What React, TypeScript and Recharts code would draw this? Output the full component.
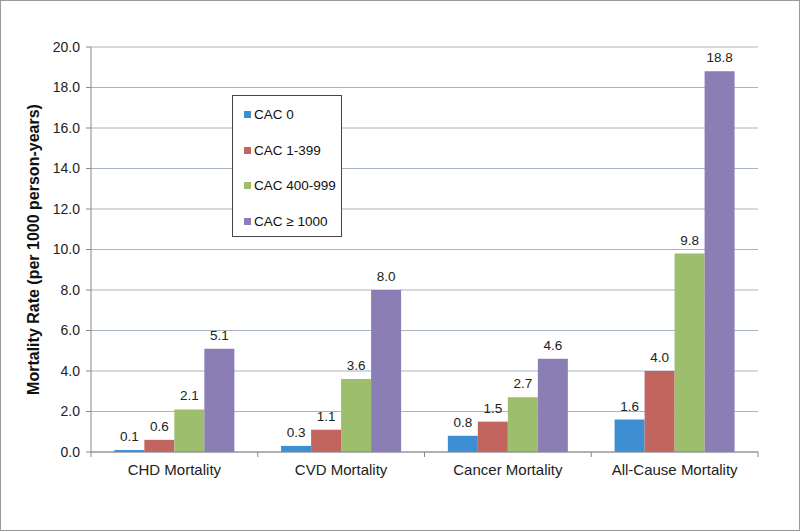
import { BarChart, Bar, XAxis, YAxis, CartesianGrid, Legend, LabelList } from 'recharts'

const categories = ['CHD Mortality', 'CVD Mortality', 'Cancer Mortality', 'All-Cause Mortality']
const cac0 = [0.1, 0.3, 0.8, 1.6]
const cac1to399 = [0.6, 1.1, 1.5, 4.0]
const cac400to999 = [2.1, 3.6, 2.7, 9.8]
const cac1000 = [5.1, 8.0, 4.6, 18.8]
const yTicks = [0, 2, 4, 6, 8, 10, 12, 14, 16, 18, 20]

const seriesDefs = [
    { key: 'CAC 0', values: cac0, color: '#3D8ED2' },
    { key: 'CAC 1-399', values: cac1to399, color: '#C2655F' },
    { key: 'CAC 400-999', values: cac400to999, color: '#9CBE6D' },
    { key: 'CAC ≥ 1000', values: cac1000, color: '#8A7EB5' },
]

const chartData = categories.map((name, i) => {
    const row: Record<string, string | number> = { name }
    seriesDefs.forEach(s => { row[s.key] = s.values[i] })
    return row
})

const FONT = '"Liberation Sans", Arial, sans-serif'

// category label plus tick marks on the band boundaries
const CategoryTick = (props: any) => {
    const { x, y, payload, index, width } = props
    const half = width / categories.length / 2
    const top = y - 8
    return (
        <g>
            <line x1={x - half} y1={top} x2={x - half} y2={top + 5} stroke="#888" />
            {index === categories.length - 1 && (
                <line x1={x + half} y1={top} x2={x + half} y2={top + 5} stroke="#888" />
            )}
            <text x={x} y={top + 23} textAnchor="middle" fontSize={15} fill="#222" fontFamily={FONT}>
                {payload.value}
            </text>
        </g>
    )
}

const LegendBox = () => (
    <div style={{
        width: 110, height: 142, border: '1px solid #444', background: '#fff',
        boxSizing: 'border-box', paddingTop: 1, paddingLeft: 11, fontFamily: FONT, fontSize: 13.5, color: '#111',
    }}>
        {seriesDefs.map(s => (
            <div key={s.key} style={{ height: 35.5, display: 'flex', alignItems: 'center' }}>
                <span style={{ width: 7, height: 7, background: s.color, marginRight: 3, display: 'inline-block' }} />
                {s.key}
            </div>
        ))}
    </div>
)

export default function App() {
    return (
        <div style={{ position: 'absolute', left: 0, top: 0, width: 800, height: 531, background: '#fff', border: '1px solid #9a9a9a', boxSizing: 'border-box' }}>
            <div style={{ position: 'absolute', left: -1, top: -1 }}>
                <BarChart
                    width={800}
                    height={531}
                    data={chartData}
                    margin={{ top: 47, right: 42, bottom: 49, left: 0 }}
                    barCategoryGap="14%"
                    barGap={0}
                >
                    <CartesianGrid vertical={false} stroke="#A8B4C4" />
                    <XAxis
                        dataKey="name"
                        tick={<CategoryTick />}
                        tickLine={false}
                        axisLine={{ stroke: '#888' }}
                        interval={0}
                    />
                    <YAxis
                        width={91}
                        domain={[0, 20]}
                        ticks={yTicks}
                        tickFormatter={(v: number) => v.toFixed(1)}
                        tick={{ fontSize: 14, fill: '#222', fontFamily: FONT, dx: -4 }}
                        tickLine={{ stroke: '#888' }}
                        tickSize={5}
                        axisLine={{ stroke: '#888' }}
                        label={{
                            value: 'Mortality Rate (per 1000 person-years)',
                            angle: -90,
                            position: 'insideLeft',
                            dx: 28,
                            style: { textAnchor: 'middle', fontSize: 16, fontWeight: 'bold', fill: '#111', fontFamily: FONT },
                        }}
                    />
                    <Legend
                        content={<LegendBox />}
                        layout="vertical"
                        align="center"
                        verticalAlign="middle"
                        wrapperStyle={{ left: 232, top: 95, width: 110, height: 142 }}
                    />
                    {seriesDefs.map(s => (
                        <Bar key={s.key} dataKey={s.key} fill={s.color} isAnimationActive={false}>
                            <LabelList
                                dataKey={s.key}
                                position="top"
                                offset={9}
                                formatter={(v: any) => Number(v).toFixed(1)}
                                style={{ fontSize: 13.5, fill: '#222', fontFamily: FONT }}
                            />
                        </Bar>
                    ))}
                </BarChart>
            </div>
        </div>
    )
}
